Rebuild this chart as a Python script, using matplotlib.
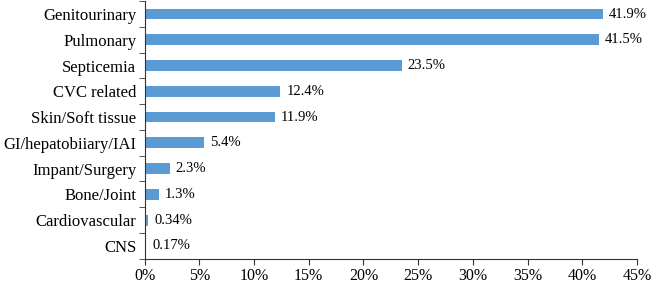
import numpy as np
import matplotlib.pyplot as plt

categories = ["Genitourinary", "Pulmonary", "Septicemia", "CVC related", "Skin/Soft tissue",
              "GI/hepatobiiary/IAI", "Impant/Surgery", "Bone/Joint", "Cardiovascular", "CNS"]
values = [41.9, 41.5, 23.5, 12.4, 11.9, 5.4, 2.3, 1.3, 0.34, 0.17]
labels = ["41.9%", "41.5%", "23.5%", "12.4%", "11.9%", "5.4%", "2.3%", "1.3%", "0.34%", "0.17%"]

plt.rcParams['font.family'] = ['Liberation Serif', 'DejaVu Serif']

fig = plt.figure(figsize=(6.63, 2.85), dpi=100)
ax = fig.add_axes([0.218, 0.092, 0.743, 0.904])

y = np.arange(len(categories))
ax.barh(y, values, height=0.42, color='#5B9BD5')
for yi, v, t in zip(y, values, labels):
    ax.text(v + 0.55, yi, t, va='center', ha='left', fontsize=10.5)

ax.set_ylim(len(categories) - 0.5, -0.5)
ax.set_xlim(0, 45)
ax.set_xticks(np.arange(0, 46, 5))
ax.set_xticklabels([f"{i}%" for i in range(0, 46, 5)], fontsize=11.5)
ax.set_yticks(y)
ax.set_yticklabels(categories, fontsize=12)
ax.set_yticks(np.arange(-0.5, len(categories), 1), minor=True)
ax.tick_params(axis='y', which='major', length=0, pad=6)
ax.tick_params(axis='y', which='minor', length=4, color='#333333')
ax.tick_params(axis='x', length=4, color='#333333', pad=2.5)
for s in ['top', 'right']:
    ax.spines[s].set_visible(False)
for s in ['left', 'bottom']:
    ax.spines[s].set_color('#333333')

fig.savefig('out.png', dpi=100)
